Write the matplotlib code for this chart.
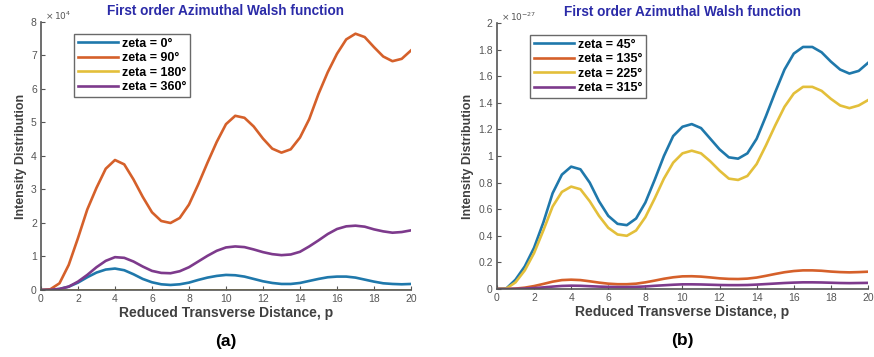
import numpy as np
import matplotlib
matplotlib.use("Agg")
import matplotlib.pyplot as plt

plt.rcParams['font.family'] = ['Liberation Sans', 'DejaVu Sans']

# Reduced transverse distance samples
p = np.arange(0, 20.01, 0.5)

# Panel (a): intensity in units of 1e4
zeta0 = [0, 0.005, 0.03, 0.1, 0.22, 0.38, 0.52, 0.61, 0.64, 0.59, 0.47, 0.33, 0.23, 0.17, 0.15,
         0.17, 0.22, 0.3, 0.37, 0.42, 0.45, 0.44, 0.4, 0.33, 0.26, 0.21, 0.18, 0.18, 0.21, 0.27,
         0.33, 0.38, 0.4, 0.4, 0.37, 0.31, 0.25, 0.2, 0.18, 0.17, 0.18]
zeta90 = [0, 0.02, 0.2, 0.75, 1.55, 2.4, 3.05, 3.62, 3.88, 3.75, 3.3, 2.78, 2.32, 2.06, 2.0,
          2.15, 2.55, 3.15, 3.8, 4.42, 4.95, 5.2, 5.14, 4.88, 4.52, 4.22, 4.1, 4.2, 4.55, 5.1,
          5.85, 6.5, 7.05, 7.48, 7.65, 7.55, 7.25, 6.97, 6.83, 6.9, 7.15]
zeta180 = [0.0] * 41
zeta360 = [0, 0.005, 0.03, 0.1, 0.25, 0.45, 0.68, 0.87, 0.98, 0.96, 0.85, 0.7, 0.57, 0.51, 0.5,
           0.56, 0.68, 0.85, 1.02, 1.17, 1.27, 1.3, 1.28, 1.21, 1.13, 1.07, 1.04, 1.06, 1.14, 1.3,
           1.48, 1.67, 1.82, 1.9, 1.92, 1.89, 1.81, 1.75, 1.71, 1.73, 1.78]

# Panel (b): intensity in units of 1e-27
zeta45 = [0, 0.003, 0.07, 0.17, 0.31, 0.5, 0.72, 0.86, 0.92, 0.9, 0.8, 0.66, 0.55, 0.49, 0.48,
          0.53, 0.65, 0.82, 1.0, 1.15, 1.22, 1.24, 1.21, 1.13, 1.05, 0.99, 0.98, 1.02, 1.13, 1.3,
          1.48, 1.65, 1.77, 1.82, 1.82, 1.78, 1.71, 1.65, 1.62, 1.64, 1.70]
zeta135 = [0, 0, 0.003, 0.01, 0.022, 0.038, 0.055, 0.067, 0.07, 0.067, 0.058, 0.048, 0.04, 0.036, 0.036,
           0.04, 0.05, 0.063, 0.077, 0.088, 0.095, 0.096, 0.093, 0.087, 0.08, 0.076, 0.075, 0.078, 0.086, 0.099,
           0.113, 0.126, 0.135, 0.14, 0.14, 0.137, 0.131, 0.127, 0.125, 0.127, 0.13]
zeta225 = [0, 0.003, 0.05, 0.14, 0.27, 0.44, 0.62, 0.73, 0.77, 0.75, 0.66, 0.55, 0.46, 0.41, 0.40,
           0.44, 0.54, 0.68, 0.83, 0.95, 1.02, 1.04, 1.02, 0.96, 0.89, 0.83, 0.82, 0.85, 0.94, 1.08,
           1.23, 1.37, 1.47, 1.52, 1.52, 1.49, 1.43, 1.38, 1.36, 1.38, 1.42]
zeta315 = [0, 0, 0.001, 0.003, 0.007, 0.012, 0.018, 0.023, 0.025, 0.024, 0.021, 0.018, 0.016, 0.015, 0.015,
           0.016, 0.019, 0.024, 0.028, 0.032, 0.035, 0.035, 0.034, 0.032, 0.03, 0.029, 0.029, 0.03, 0.033, 0.037,
           0.041, 0.045, 0.048, 0.05, 0.05, 0.049, 0.047, 0.045, 0.044, 0.045, 0.046]

labels_a = ['zeta = 0°', 'zeta = 90°', 'zeta = 180°', 'zeta = 360°']
labels_b = ['zeta = 45°', 'zeta = 135°', 'zeta = 225°', 'zeta = 315°']
colors = ['#1f78ab', '#d5602a', '#e3bf3a', '#7d3a8c']

axis_col = '#555555'
title_col = '#2b2ba8'

fig = plt.figure(figsize=(8.74, 3.57), dpi=100)
ax_a = fig.add_axes([0.0469, 0.1877, 0.4233, 0.7507])
ax_b = fig.add_axes([0.5686, 0.1905, 0.4245, 0.7450])


def style(ax, ylim, yticks, offset, panel):
    ax.set_xlim(0, 20)
    ax.set_ylim(*ylim)
    ax.set_xticks(np.arange(0, 21, 2))
    ax.set_yticks(yticks)
    ax.set_yticklabels(['%g' % round(t, 2) for t in yticks])
    for s in ('top', 'right'):
        ax.spines[s].set_visible(False)
    for s in ('left', 'bottom'):
        ax.spines[s].set_color(axis_col)
        ax.spines[s].set_linewidth(1.2)
    ax.tick_params(direction='in', length=3, width=0.8, colors=axis_col,
                   labelsize=7.5, pad=3)
    ax.set_xlabel('Reduced Transverse Distance, p', fontsize=10, fontweight='bold',
                  color='#404040', labelpad=1)
    ax.set_ylabel('Intensity Distribution', fontsize=9, fontweight='bold',
                  color='#404040', labelpad=3)
    ax.set_title('First order Azimuthal Walsh function', fontsize=9.8, fontweight='bold',
                 color=title_col, pad=5)
    ax.text(0.01, 1.0, offset, transform=ax.transAxes, fontsize=6.5,
            color=axis_col, ha='left', va='bottom')
    ax.text(0.5, -0.165, panel, transform=ax.transAxes, fontsize=12.5, fontweight='bold',
            color='black', ha='center', va='top')
    leg = ax.legend(loc='upper left', bbox_to_anchor=(0.09, 0.955), fontsize=9,
                    frameon=True, fancybox=False, handlelength=3.2, handletextpad=0.3,
                    borderpad=0.3, labelspacing=0.2, borderaxespad=0)
    for t in leg.get_texts():
        t.set_fontweight('bold')
    leg.get_frame().set_edgecolor('#444444')
    leg.get_frame().set_linewidth(1.0)


for y, lab, c in zip([zeta0, zeta90, zeta180, zeta360], labels_a, colors):
    ax_a.plot(p, y, color=c, lw=1.9, label=lab, solid_joinstyle='round')
style(ax_a, (0, 8), list(range(0, 9)), r'$\times\,10^{4}$', '(a)')

for y, lab, c in zip([zeta45, zeta135, zeta225, zeta315], labels_b, colors):
    ax_b.plot(p, y, color=c, lw=1.9, label=lab, solid_joinstyle='round')
style(ax_b, (0, 2), list(np.arange(0, 2.01, 0.2)), r'$\times\,10^{-27}$', '(b)')

fig.savefig('out.png', dpi=100)
